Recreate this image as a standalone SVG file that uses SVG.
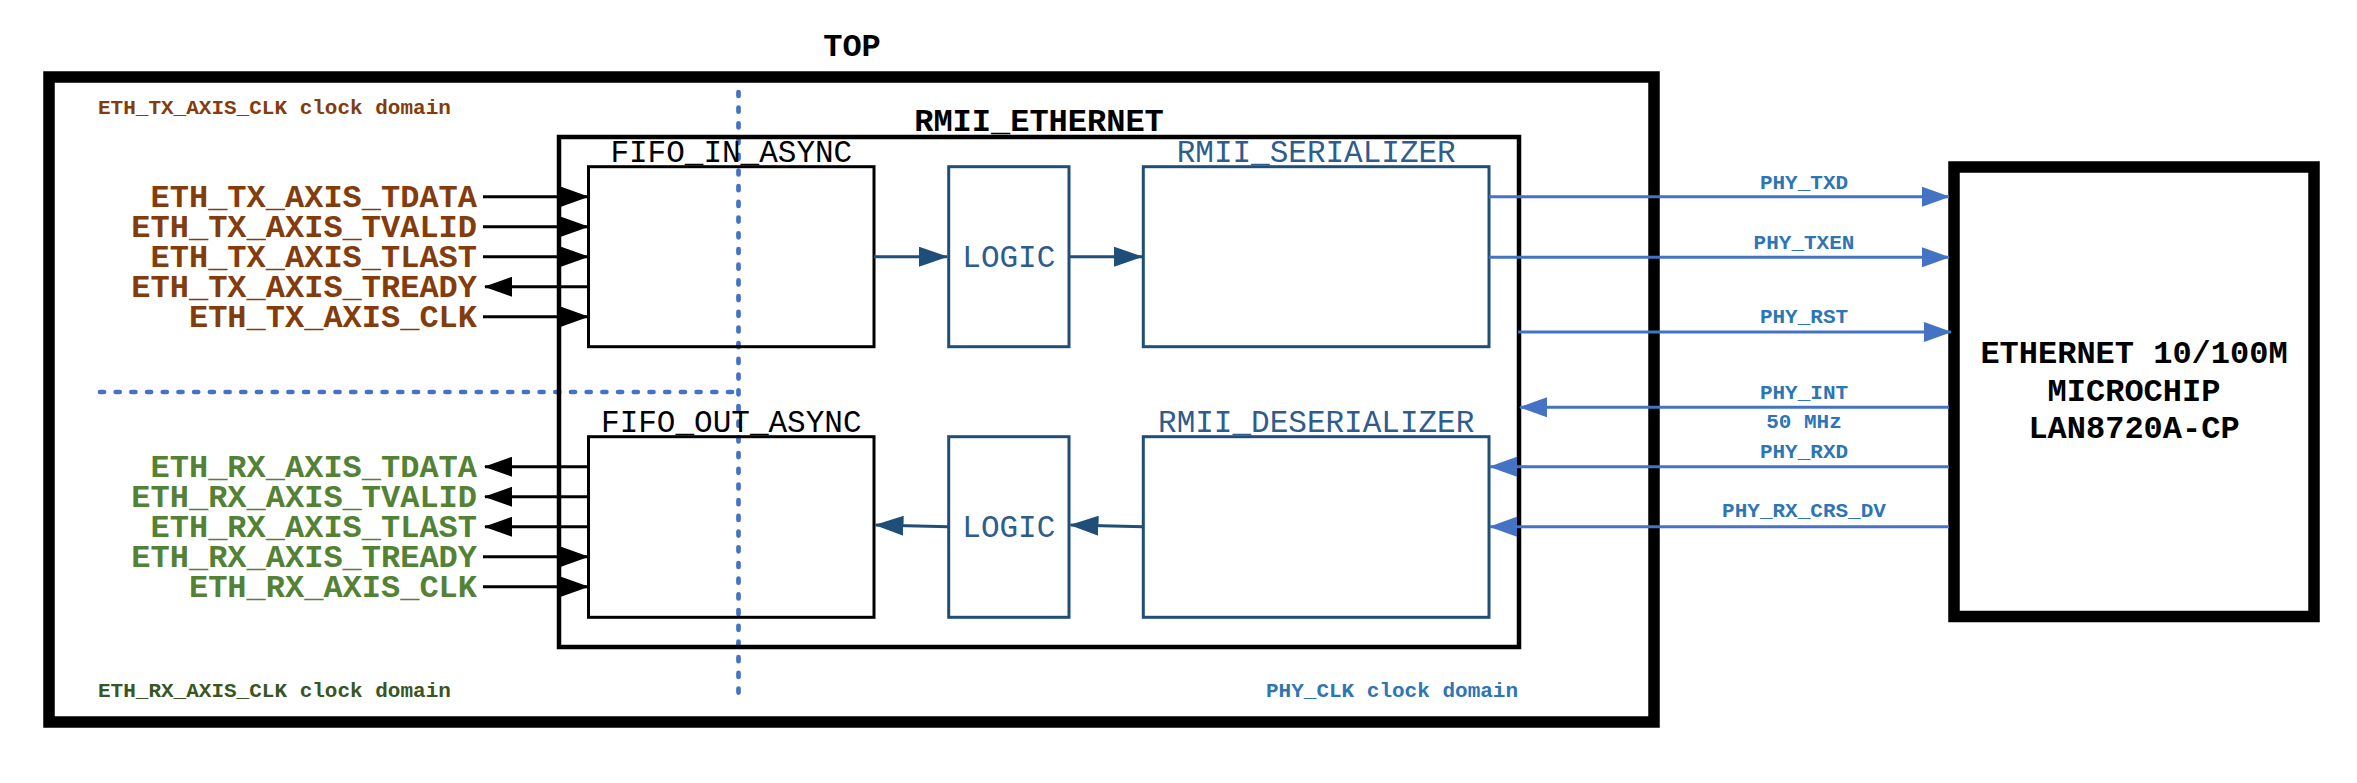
<svg xmlns="http://www.w3.org/2000/svg" width="2357" height="783" viewBox="0 0 2357 783">
<style>
text{font-family:"Liberation Mono","Courier New",monospace}
.b{font-weight:bold}
.title{font-size:32px;font-weight:bold;fill:#000}
.sub{font-size:31px;fill:#000}
.subb{font-size:31px;fill:#2e5c8c}
.tx{font-size:32px;font-weight:bold;fill:#843c0c;text-anchor:end}
.rx{font-size:32px;font-weight:bold;fill:#548235;text-anchor:end}
.dom{font-size:21px;font-weight:bold}
.phy{font-size:21px;font-weight:bold;fill:#2e75b6;text-anchor:middle}
.blk{fill:none;stroke:#000;stroke-width:3}
.blu{fill:none;stroke:#1f4e79;stroke-width:3}
.sig{stroke:#000;stroke-width:3;fill:none}
.int{stroke:#1f4e79;stroke-width:3;fill:none}
.ext{stroke:#4472c4;stroke-width:3;fill:none}
.dash{stroke:#4472c4;stroke-width:4.7;stroke-dasharray:4 11.7;stroke-linecap:round;fill:none}
</style>
<defs>
<marker id="ak" markerUnits="userSpaceOnUse" markerWidth="28" markerHeight="20" viewBox="0 0 28 20" refX="27" refY="10" orient="auto"><path d="M0,0 L28,10 L0,20 z" fill="#000"/></marker>
<marker id="ad" markerUnits="userSpaceOnUse" markerWidth="29" markerHeight="20" viewBox="0 0 29 20" refX="28" refY="10" orient="auto"><path d="M0,0 L29,10 L0,20 z" fill="#1f4e79"/></marker>
<marker id="ab" markerUnits="userSpaceOnUse" markerWidth="28" markerHeight="20" viewBox="0 0 28 20" refX="27" refY="10" orient="auto"><path d="M0,0 L28,10 L0,20 z" fill="#4472c4"/></marker>
</defs>

<g id="top">
<rect x="49" y="77" width="1605" height="645" fill="none" stroke="#000" stroke-width="11.5"/>
<text class="title" x="852" y="56" text-anchor="middle">TOP</text>
<text class="dom" x="98" y="114" fill="#843c0c">ETH_TX_AXIS_CLK clock domain</text>
<text class="dom" x="98" y="697" fill="#375623">ETH_RX_AXIS_CLK clock domain</text>
<text class="dom" x="1266" y="697" fill="#2e75b6">PHY_CLK clock domain</text>
</g>

<g id="clock-boundaries">
<line class="dash" x1="738.5" y1="92" x2="738.5" y2="700"/>
<line class="dash" x1="100" y1="392" x2="736" y2="392"/>
</g>

<g id="rmii_ethernet">
<rect x="559" y="137" width="960" height="510" fill="none" stroke="#000" stroke-width="4.5"/>
<text class="title" x="1039" y="131" text-anchor="middle">RMII_ETHERNET</text>
</g>

<g id="fifo_in_async">
<rect class="blk" x="588.5" y="166.7" width="285.5" height="180"/>
<text class="sub" x="731.3" y="161.7" text-anchor="middle">FIFO_IN_ASYNC</text>
</g>
<g id="fifo_out_async">
<rect class="blk" x="588.5" y="436.7" width="285.5" height="180.6"/>
<text class="sub" x="731.3" y="431.7" text-anchor="middle">FIFO_OUT_ASYNC</text>
</g>
<g id="logic_tx">
<rect class="blu" x="948.7" y="166.7" width="120.3" height="180"/>
<text class="subb" x="1008.8" y="267" text-anchor="middle">LOGIC</text>
</g>
<g id="logic_rx">
<rect class="blu" x="948.7" y="436.7" width="120.3" height="180.6"/>
<text class="subb" x="1008.8" y="537" text-anchor="middle">LOGIC</text>
</g>
<g id="rmii_serializer">
<rect class="blu" x="1143.3" y="166.7" width="345.7" height="180"/>
<text class="subb" x="1316.2" y="161.7" text-anchor="middle">RMII_SERIALIZER</text>
</g>
<g id="rmii_deserializer">
<rect class="blu" x="1143.3" y="436.7" width="345.7" height="180.6"/>
<text class="subb" x="1316.2" y="431.7" text-anchor="middle">RMII_DESERIALIZER</text>
</g>

<g id="phy">
<rect x="1954" y="167" width="360" height="449.5" fill="none" stroke="#000" stroke-width="11.5"/>
<text class="title" x="2134" y="362.7" text-anchor="middle">ETHERNET 10/100M</text>
<text class="title" x="2134" y="401" text-anchor="middle">MICROCHIP</text>
<text class="title" x="2134" y="438.3" text-anchor="middle">LAN8720A-CP</text>
</g>

<g id="tx-labels">
<text class="tx" x="477" y="206.7">ETH_TX_AXIS_TDATA</text>
<text class="tx" x="477" y="236.7">ETH_TX_AXIS_TVALID</text>
<text class="tx" x="477" y="266.7">ETH_TX_AXIS_TLAST</text>
<text class="tx" x="477" y="296.7">ETH_TX_AXIS_TREADY</text>
<text class="tx" x="477" y="326.7">ETH_TX_AXIS_CLK</text>
</g>
<g id="rx-labels">
<text class="rx" x="477" y="476.7">ETH_RX_AXIS_TDATA</text>
<text class="rx" x="477" y="506.7">ETH_RX_AXIS_TVALID</text>
<text class="rx" x="477" y="536.7">ETH_RX_AXIS_TLAST</text>
<text class="rx" x="477" y="566.7">ETH_RX_AXIS_TREADY</text>
<text class="rx" x="477" y="596.7">ETH_RX_AXIS_CLK</text>
</g>

<g id="connectors">
<line class="sig" x1="483" y1="196.7" x2="588" y2="196.7" marker-end="url(#ak)"/>
<line class="sig" x1="483" y1="226.7" x2="588" y2="226.7" marker-end="url(#ak)"/>
<line class="sig" x1="483" y1="256.7" x2="588" y2="256.7" marker-end="url(#ak)"/>
<line class="sig" x1="588" y1="286.7" x2="485" y2="286.7" marker-end="url(#ak)"/>
<line class="sig" x1="483" y1="316.7" x2="588" y2="316.7" marker-end="url(#ak)"/>

<line class="sig" x1="588" y1="466.7" x2="485" y2="466.7" marker-end="url(#ak)"/>
<line class="sig" x1="588" y1="496.7" x2="485" y2="496.7" marker-end="url(#ak)"/>
<line class="sig" x1="588" y1="526.7" x2="485" y2="526.7" marker-end="url(#ak)"/>
<line class="sig" x1="483" y1="556.7" x2="588" y2="556.7" marker-end="url(#ak)"/>
<line class="sig" x1="483" y1="586.7" x2="588" y2="586.7" marker-end="url(#ak)"/>

<line class="int" x1="874" y1="256.7" x2="947" y2="256.7" marker-end="url(#ad)"/>
<line class="int" x1="1069" y1="256.7" x2="1142" y2="256.7" marker-end="url(#ad)"/>
<line class="int" x1="948.7" y1="526.7" x2="875.5" y2="525" marker-end="url(#ad)"/>
<line class="int" x1="1143.3" y1="526.7" x2="1070.5" y2="525" marker-end="url(#ad)"/>

<line class="ext" x1="1489" y1="196.7" x2="1949" y2="196.7" marker-end="url(#ab)"/>
<line class="ext" x1="1489" y1="257.3" x2="1949" y2="257.3" marker-end="url(#ab)"/>
<line class="ext" x1="1518" y1="332" x2="1951" y2="332" marker-end="url(#ab)"/>
<line class="ext" x1="1949" y1="407.3" x2="1520" y2="407.3" marker-end="url(#ab)"/>
<line class="ext" x1="1949" y1="466.7" x2="1490" y2="466.7" marker-end="url(#ab)"/>
<line class="ext" x1="1949" y1="526.7" x2="1490" y2="526.7" marker-end="url(#ab)"/>

<text class="phy" x="1804" y="189">PHY_TXD</text>
<text class="phy" x="1804" y="249">PHY_TXEN</text>
<text class="phy" x="1804" y="322.7">PHY_RST</text>
<text class="phy" x="1804" y="399">PHY_INT</text>
<text class="phy" x="1804" y="428.3">50 MHz</text>
<text class="phy" x="1804" y="458.3">PHY_RXD</text>
<text class="phy" x="1804" y="516.7">PHY_RX_CRS_DV</text>
</g>
</svg>
